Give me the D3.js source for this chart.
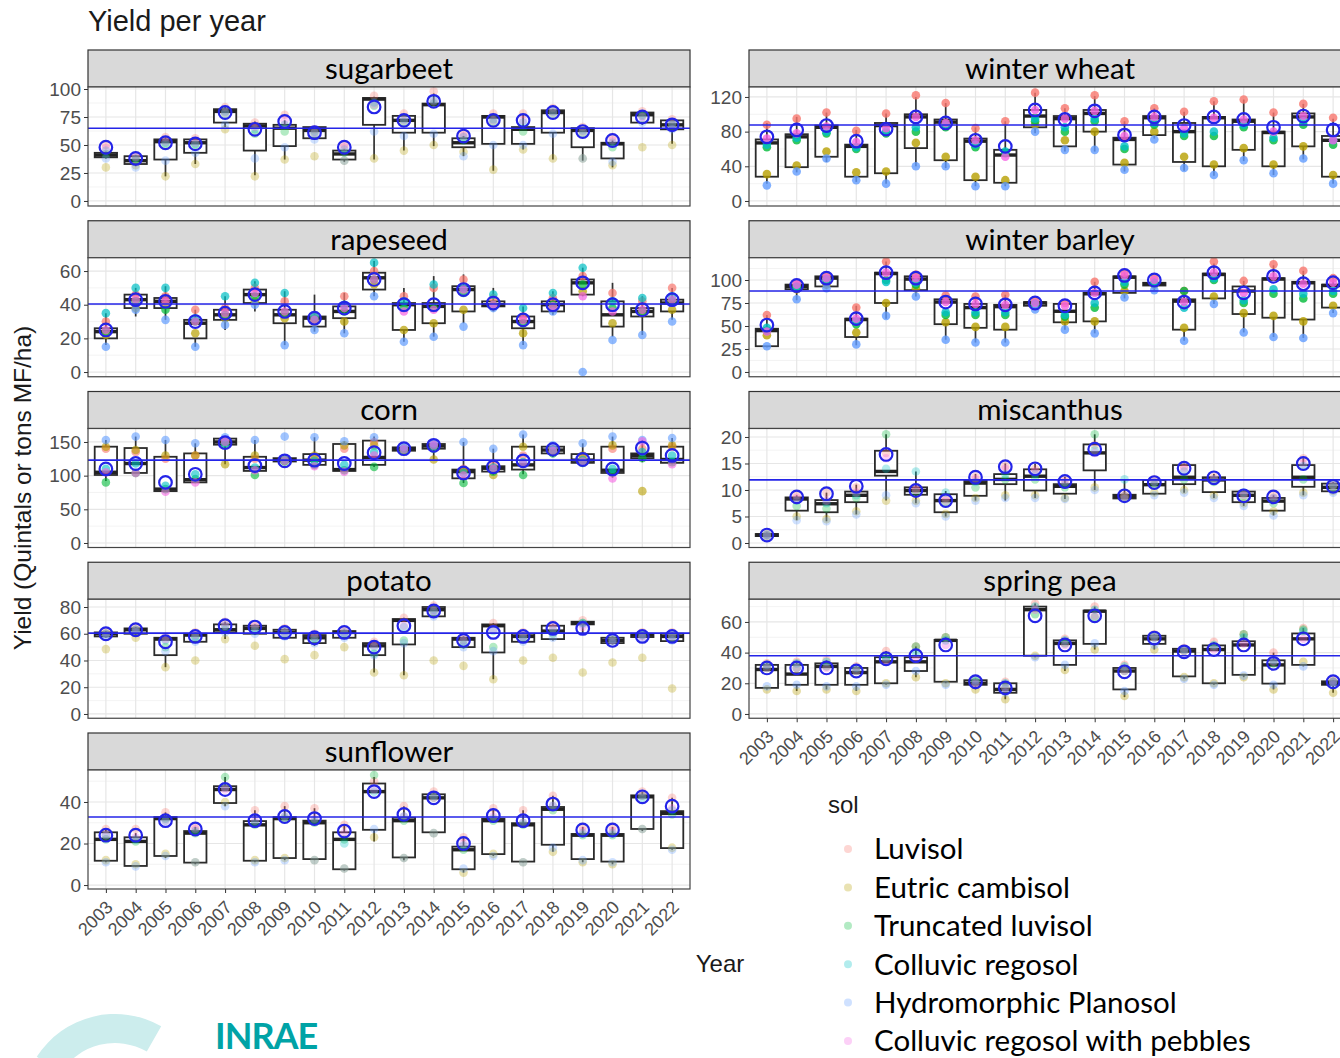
<!DOCTYPE html>
<html>
<head>
<meta charset="utf-8">
<script src="https://cdn.jsdelivr.net/npm/d3@7"></script>
<style>
  body { margin: 0; background: #fff; }
  svg { display: block; }
</style>
</head>
<body>
<div id="chart"></div>
<script>
// ---- data ----
const years = ["2003", "2004", "2005", "2006", "2007", "2008", "2009", "2010", "2011", "2012",
  "2013", "2014", "2015", "2016", "2017", "2018", "2019", "2020", "2021", "2022"];
const soils = ["Luvisol", "Eutric cambisol", "Truncated luvisol", "Colluvic regosol",
  "Hydromorphic Planosol", "Colluvic regosol with pebbles"];
const crops = ["sugarbeet", "rapeseed", "corn", "potato", "sunflower",
  "winter wheat", "winter barley", "miscanthus", "spring pea"];

// overall mean per crop (blue line)
const overallMeans = [65, 40.4, 123, 60.5, 32.8, 87.7, 88, 11.9, 38];
// y range and ticks per crop
const yLimits = [[-4.5, 101.8], [-2.8, 67.9], [-6.7, 170], [-3.2, 85.8], [-1.9, 55.4],
  [-5.8, 131.5], [-5.2, 124.2], [-0.85, 21.6], [-2.8, 74.8]];
const yTicks = [[0, 25, 50, 75, 100], [0, 20, 40, 60], [0, 50, 100, 150], [0, 20, 40, 60, 80], [0, 20, 40],
  [0, 40, 80, 120], [0, 25, 50, 75, 100], [0, 5, 10, 15, 20], [0, 20, 40, 60]];

// box stats per year: [lower whisker, q1, median, q3, upper whisker]
const boxSugarbeet = [[38,39,41,43,44],[31,33,36,40,41],[22,37,53,55,57],[33,43,52,55,56],[66,70,80,82,84],
  [23,45,67,69,71],[37,49,65,68,72],[55,56,63,66,67],[35,37,42,45,46],[37,68,91,92,93],
  [45,61,72,76,77],[49,61,86,87,96],[40,48,52,56,58],[27,51,75,76,78],[46,51,64,66,78],
  [37,61,79,81,82],[36,48,63,65,66],[30,38,51,52,54],[68,70,77,79,80],[51,64,68,72,73]];
const boxRapeseed = [[16,20,24,26,35],[33,38,43,46,50],[31,38,42,44,51],[15,20,29,31,37],[25,31,34,37,45],
  [36,41,46,49,54],[16,29,34,37,48],[24,27,32,33,46],[23,32,36,39,47],[45,49,56,59,66],
  [18,25,40,41,50],[21,29,39,41,57],[29,36,49,51,58],[36,39,40,42,50],[16,26,30,33,39],
  [34,36,40,42,48],[45,46,53,55,62],[21,27,34,42,53],[22,33,36,38,45],[31,36,41,43,50]];
const boxCorn = [[92,101,105,143,153],[104,104,118,141,158],[76,77,80,128,153],[90,90,94,133,148],[117,146,150,155,157],
  [103,107,112,128,153],[120,121,123,126,127],[114,116,123,132,157],[106,107,109,147,151],[113,116,127,152,158],
  [136,137,140,142,143],[124,140,144,147,148],[89,96,106,109,150],[101,106,111,114,140],[102,109,116,143,161],
  [128,133,138,143,145],[118,119,123,132,148],[97,104,108,143,158],[120,126,130,133,153],[117,119,124,143,156]];
const boxPotato = [[57,58,60,61,62],[59,60,63,64,65],[35,44,56,57,58],[53,54,59,60,61],[56,61,63,67,69],
  [59,60,64,66,67],[56,57,61,63,64],[51,53,57,59,60],[56,57,61,62,63],[31,44,51,53,54],
  [29,52,70,71,72],[72,73,78,80,81],[49,50,56,57,58],[26,46,66,67,68],[53,54,58,60,61],
  [55,56,62,66,67],[60,67,68,69,70],[52,53,55,57,58],[57,57.5,59,60,61],[54,54.5,58,60,61]];
const boxSunflower = [[11,11.7,22,25.4,27],[9,9.2,21,23,25],[13,14,32,32.7,35],[10,10.8,25,26,28],[38,39.5,46,47.6,52],
  [11,11.7,29,30.8,36],[12,13,32,32.7,38],[12,12.5,30,31,37],[7,7.6,22,25.4,29],[21,26.6,45,48.9,52],
  [12,13.3,31,32.4,38],[25,25.4,42,43.7,45],[6,7.6,17,18.5,23],[14,14.9,31,31.9,37],[11,11.3,29,29.8,36],
  [16,19.4,36.5,37.6,43],[11,12.5,24,24.6,28],[10,11.3,24,24.6,28],[26,27,42.5,43.2,45],[17,17.8,34.5,35.6,42]];
const boxWinterWheat = [[20,28,67,71,90],[33,39,74,77,97],[45,51,85,87,102],[22,28,63,65,82],[20,32,87,90,101],
  [40,61,97,100,120],[38,47,91,94,113],[17,24,69,72,85],[17,21,53,59,92],[78,85,98,105,125],
  [57,63,95,98,107],[57,80,101,105,121],[34,42,71,73,92],[72,76,96,98,107],[35,45,80,90,103],
  [29,40,96,97,115],[46,59,92,94,117],[30,40,79,80,102],[48,63,97,101,112],[20,28,70,75,95]];
const boxWinterBarley = [[27,28,45,47,62],[78,90,93,95,97],[90,93,102,104,105],[29,38,57,58,72],[58,75,107,108,120],
  [82,89,101,104,106],[35,52,76,79,83],[32,48,70,74,82],[32,46,71,73,84],[68,72,75,76,78],
  [46,54,66,74,75],[42,55,85,86,98],[80,86,103,104,108],[89,94,96,97,102],[34,46,77,79,88],
  [74,80,106,107,118],[43,63,88,93,99],[38,59,101,102,116],[37,57,97,98,110],[64,70,94,95,102]];
const boxMiscanthus = [[1.2,1.3,1.5,1.7,2],[4.3,6.1,8.3,8.6,9],[4.1,5.8,7.4,8.1,9.5],[5.4,7.7,9,9.7,11],[8,12.7,13.5,17.4,20.5],
  [7.5,9.1,9.9,10.5,13.5],[5,5.8,8,9.2,9.8],[8,8.9,11.3,11.7,13],[8,11.1,12,13,15],[8.5,9.9,12.6,13.9,15],
  [8.3,9.3,10.7,11.1,12.5],[10,13.7,17,18.6,20.5],[8.3,8.4,8.8,9.1,12],[9,9.3,11,11.9,12],[9.5,11.1,12.4,14.7,15],
  [8.5,9.6,11.9,12.4,13],[7,7.7,9,9.7,10],[5.2,6.1,7.9,8.5,9],[9,10.6,12.4,14.7,16],[9.5,9.75,10.5,11.2,11.5]];
const boxSpringPea = [[16,17,29,32,33],[15,19,26,32,34],[16,19,31,33,35],[15,19,27,30,31],[19,20,34,37,41],
  [24,28,34,37,44],[20,21,48,48.3,50],[16,19,20,22,23],[9.6,13.8,16,20,21],[37,38,68,70,72],
  [28,32,46,48,49],[42,45.7,67,67.4,70],[11,16,28,30,32],[42,45.7,49,51,52],[23,24.5,41,42.5,43],
  [19,20,42,44.7,47],[24,25.5,45,47.4,52],[16,19.8,32,35,40],[31,32,49,52.5,56],[13.8,19,20,21.3,22]];

// yearly means (open circles)
const meanSugarbeet = [48,38,52,51,79,64,71,61,48,84,72,89,58,72,72,79,62,54,75,68];
const meanRapeseed = [25,43,42,30,35,46,36,32,38,55,40,40,49,41,31,40,53,40,37,43];
const meanCorn = [110,118,90,102,149,115,122,123,118,134,140,145,104,113,122,139,124,110,141,130];
const meanPotato = [60,63,54,58,66,65,61,57,61,50,66,77,55,61,58,64,64,55,58,58];
const meanSunflower = [24,24,31,27,46,31,33,32,26,45,34,42,20,33.5,31,39,26.5,26.5,42.5,38];
const meanWinterWheat = [74,82,87,69,83,97,90,70,63,105,94,104,76,97,87,97,94,85,98,82];
const meanWinterBarley = [51,94,102,58,108,102,76,74,73,75,72,86,105,100,76,108,86,104,96,97];
const meanMiscanthus = [1.5,8.7,9.3,10.7,16.7,9.9,8,12.4,14.4,14,11.6,17.7,8.9,11.4,14.1,12.3,8.9,8.7,15,10.7];
const meanSpringPea = [30,30,30,28,36,38,45,21,17,64,45,64,27.5,49.5,40.5,42,45,33,49,21];

// soil values per year, one row per soil (same order as soils)
const soilSugarbeet = [
  [50,40,57,56,84,70,77,64,50,94,78,98,60,78,78,83,66,57,80,73],
  [30,32,22,33,64,22,37,40,36,38,45,50,44,28,46,38,38,32,48,50],
  [42,37,50,50,78,60,62,60,43,85,70,87,54,70,62,78,60,48,76,68],
  [45,38,52,51,80,64,68,62,46,88,73,90,57,73,70,80,63,52,77,70],
  [38,30,36,43,68,38,48,55,36,62,58,60,40,50,50,60,38,35,70,64],
  [47,39,53,52,79,66,72,61,48,86,72,89,58,72,72,79,62,54,75,69]];
const soilRapeseed = [
  [30,46,45,37,38,50,42,33,45,60,45,50,55,44,33,44,57,47,42,50],
  [22,38,40,23,32,42,32,30,30,52,25,29,37,39,23,38,48,29,35,37],
  [24,42,37,30,34,45,35,31,36,55,38,38,47,40,29,40,52,38,36,42],
  [35,50,50,32,45,53,47,33,40,65,42,52,50,46,38,47,62,42,44,45],
  [15,37,31,15,28,40,16,25,23,45,18,21,27,38,16,36,0,19,22,30],
  [25,43,42,30,35,47,36,31,38,55,36,37,49,40,31,39,45,36,37,43]];
const soilCorn = [
  [140,135,125,130,152,125,124,128,140,150,141,146,110,116,130,140,128,140,140,143],
  [143,138,130,130,117,130,122,130,145,145,138,124,108,101,143,135,130,145,77,145],
  [90,104,80,95,146,101,121,116,108,113,137,140,89,106,101,133,119,104,126,120],
  [110,118,85,102,148,112,123,122,116,135,140,144,104,112,120,138,123,110,135,130],
  [153,158,153,148,157,153,158,157,151,157,143,148,150,140,161,145,148,158,153,156],
  [105,104,76,90,150,108,122,114,106,130,139,145,100,110,118,137,121,96,151,117]];
const soilPotato = [
  [62,65,58,61,69,67,64,60,63,54,72,81,58,68,61,67,70,58,61,61],
  [48.5,57,35,40,56,51,41,44,50,31,29,40,36,26,40,42,31,38.5,42,19],
  [60,63,50,57,63,62,60,55,60,45,55,76,52,50,56,60,68,55,59,57],
  [60,63,55,58,66,64,62,57,61,50,65,78,55,62,58,63,68,56,59,59],
  [58,61,47,54,61,60,58,53,57,44,53,73,50,47,54,57,67,53,57,55],
  [60,63,56,59,66,65,61,58,61,51,66,77,55,63,58,64,65,55,58,58]];
const soilSunflower = [
  [27,27,35,28,47,36,38,37,29,50,38,45,23,37,36,43,28,28,45,42],
  [12,10,15,11,40,12,13,12,8,23,13,25,6,15,11,16,11,10,27,18],
  [22,21,32,25,52,29,32,30,22,53,31,42,17,31,29,36,24,24,43,34],
  [24,22,31,26,47,30,33,31,20,45,33,43,19,32,30,38,25,25,42,36],
  [11,9,14,11,38,11,12,12,8,27,13,25,8,14,11,18,12,11,27,17],
  [24,23,31,27,46,31,33,32,25,46,33,42,20,33,30,38,26,26,43,37]];
const soilWinterWheat = [
  [88,95,102,81,101,122,113,84,92,125,107,122,92,107,103,115,117,102,112,96],
  [31,41,57,33,34,67,51,28,24,88,70,80,44,80,51,42,61,42,63,30],
  [62,70,78,60,78,80,85,62,55,92,80,92,60,88,75,75,85,70,88,65],
  [65,73,80,62,80,85,88,65,57,95,85,95,63,90,78,80,88,73,92,70],
  [18,34,49,24,20,40,40,17,17,80,59,59,36,71,38,30,47,32,49,20],
  [72,78,86,68,84,97,90,70,51,105,95,104,75,97,84,96,94,80,98,70]];
const soilWinterBarley = [
  [62,97,105,70,120,106,83,82,84,78,75,98,108,102,88,120,99,117,110,102],
  [40,90,95,43,75,91,54,49,49,72,55,55,88,95,48,82,64,61,55,72],
  [45,92,100,52,100,95,62,62,62,74,60,70,95,96,88,100,75,85,80,85],
  [48,93,101,55,98,97,65,65,65,74,62,75,98,97,70,102,78,90,85,88],
  [28,79,91,30,61,82,35,32,32,68,46,42,81,89,34,74,43,38,37,64],
  [44,95,102,58,108,102,76,74,73,75,72,86,105,100,76,108,86,104,96,97]];
const soilMiscanthus = [
  [1.8,9,9.5,10.5,17,10.2,8.5,12.5,14.5,14,12,18.5,9,12,14.5,12.5,9.3,9,16,11],
  [1.3,5,4.5,6,8,8,5.5,8.5,9,9,8.5,10.5,8.5,9.5,10,9,7.5,6,9.5,9.8],
  [1.5,7,6.5,8.5,20.5,9.5,7.5,10.5,12,12,10.5,20.5,8.8,11,12,11.5,8.5,7.5,12,10.5],
  [1.6,8,7.5,9,14,13.5,9.5,11.5,13,13,11,17.5,12,11.5,13.5,12,9.5,8.5,14.5,11],
  [1.2,4.3,4.1,5.4,9,7.5,5,8,8.5,8.5,8.3,10,8.3,9,9.5,8.5,7,5.2,9,9.5],
  [1.5,8.5,8,9.5,16,10,8,12,14,13.5,11.5,17,8.8,11.5,14,12,9,8.5,15,10.8]];
const soilSpringPea = [
  [33,34,35,31,41,44,50,23,21,72,49,70,32,52,43,47,52,40,56,22],
  [16,15,16,15,20,24,20,16,9.6,38,28.7,42,11.7,42,24,20,24,16,34,13.8],
  [30,30,31,28,36,44,50,21,17,65,46,63,28,50,41,44,52,33,55,21],
  [32,33,34,30,37,40,48,22,20,70,48,68,31,51,42,45,50,35,54,21],
  [18,19,18,18,19,28,19,19,14,37,32,46,15,45,23,19,25,19,31,19],
  [30,30,30,28,34,36,45,20,17,68,45,64,28,50,41,42,46,34,49,21]];

const boxes = [boxSugarbeet, boxRapeseed, boxCorn, boxPotato, boxSunflower,
  boxWinterWheat, boxWinterBarley, boxMiscanthus, boxSpringPea];
const means = [meanSugarbeet, meanRapeseed, meanCorn, meanPotato, meanSunflower,
  meanWinterWheat, meanWinterBarley, meanMiscanthus, meanSpringPea];
const soilValues = [soilSugarbeet, soilRapeseed, soilCorn, soilPotato, soilSunflower,
  soilWinterWheat, soilWinterBarley, soilMiscanthus, soilSpringPea];

// ---- layout / style ----
const width = 1340, height = 1058;
const colX = [88, 749];
const panelW = 602;
const rowTop = [50, 220.75, 391.5, 562.25, 733];
const stripH = 37, panelH = 119;
const soilColors = ["#F8766D", "#B79F00", "#00BA38", "#00BFC4", "#619CFF", "#F564E3"];
// denser panels look more saturated in the picture
const pointOpacity = [0.3, 0.7, 0.6, 0.3, 0.3, 0.8, 0.8, 0.3, 0.35];
const meanBlue = "#2424E8";
const axisFont = "'Liberation Sans', Arial, sans-serif";
const stripFont = "Lato, 'Open Sans', sans-serif";

const svg = d3.select("#chart").append("svg")
  .attr("width", width)
  .attr("height", height)
  .style("font-family", axisFont);

// title
svg.append("text")
  .attr("x", 88).attr("y", 31)
  .attr("font-size", 29).attr("fill", "#1a1a1a")
  .text("Yield per year");

crops.forEach((crop, c) => {
  const col = c < 5 ? 0 : 1;
  const row = c < 5 ? c : c - 5;
  const x0 = colX[col];
  const top = rowTop[row];
  const pTop = top + stripH;
  const pBot = pTop + panelH;

  const x = d3.scalePoint().domain(years).range([x0, x0 + panelW]).padding(0.6);
  const y = d3.scaleLinear().domain(yLimits[c]).range([pBot, pTop]);
  const step = x.step();
  const boxW = step * 0.75;

  const g = svg.append("g");

  // strip
  g.append("rect")
    .attr("x", x0).attr("y", top).attr("width", panelW).attr("height", stripH)
    .attr("fill", "#D9D9D9").attr("stroke", "#333").attr("stroke-width", 1.2);
  g.append("text")
    .attr("x", x0 + panelW / 2).attr("y", top + stripH / 2)
    .attr("dy", "0.35em").attr("text-anchor", "middle")
    .attr("font-family", stripFont).attr("font-size", 29.5).attr("fill", "#000")
    .text(crop);

  // panel background + grid
  g.append("rect")
    .attr("x", x0).attr("y", pTop).attr("width", panelW).attr("height", panelH)
    .attr("fill", "#fff");

  const ticks = yTicks[c];
  const tStep = ticks[1] - ticks[0];
  const minor = [ticks[0] - tStep / 2].concat(ticks.map(t => t + tStep / 2))
    .filter(v => v > yLimits[c][0] && v < yLimits[c][1]);

  g.append("g").selectAll("line").data(minor).join("line")
    .attr("x1", x0).attr("x2", x0 + panelW)
    .attr("y1", d => y(d)).attr("y2", d => y(d))
    .attr("stroke", "#F0F0F0").attr("stroke-width", 0.8);
  g.append("g").selectAll("line").data(ticks).join("line")
    .attr("x1", x0).attr("x2", x0 + panelW)
    .attr("y1", d => y(d)).attr("y2", d => y(d))
    .attr("stroke", "#E6E6E6").attr("stroke-width", 1.2);
  g.append("g").selectAll("line").data(years).join("line")
    .attr("x1", d => x(d)).attr("x2", d => x(d))
    .attr("y1", pTop).attr("y2", pBot)
    .attr("stroke", "#E6E6E6").attr("stroke-width", 1.2);

  // boxplots
  const bdata = boxes[c].map((b, i) => ({ year: years[i], lo: b[0], q1: b[1], med: b[2], q3: b[3], hi: b[4] }));
  const bx = g.append("g").selectAll("g").data(bdata).join("g");
  bx.append("line")
    .attr("x1", d => x(d.year)).attr("x2", d => x(d.year))
    .attr("y1", d => y(d.hi)).attr("y2", d => y(d.lo))
    .attr("stroke", "#333").attr("stroke-width", 1.7);
  bx.append("rect")
    .attr("x", d => x(d.year) - boxW / 2).attr("width", boxW)
    .attr("y", d => y(d.q3)).attr("height", d => Math.max(1, y(d.q1) - y(d.q3)))
    .attr("fill", "#fff").attr("stroke", "#2b2b2b").attr("stroke-width", 1.8);
  bx.append("line")
    .attr("x1", d => x(d.year) - boxW / 2).attr("x2", d => x(d.year) + boxW / 2)
    .attr("y1", d => y(d.med)).attr("y2", d => y(d.med))
    .attr("stroke", "#222").attr("stroke-width", 3.4);

  // soil points
  const pts = [];
  soilValues[c].forEach((vals, s) => vals.forEach((v, i) => {
    if (v != null) pts.push({ soil: s, year: years[i], v });
  }));
  g.append("g").selectAll("circle").data(pts).join("circle")
    .attr("cx", d => x(d.year)).attr("cy", d => y(d.v))
    .attr("r", 4.3)
    .attr("fill", d => soilColors[d.soil])
    .attr("fill-opacity", pointOpacity[c]);

  // overall mean line
  g.append("line")
    .attr("x1", x0).attr("x2", x0 + panelW)
    .attr("y1", y(overallMeans[c])).attr("y2", y(overallMeans[c]))
    .attr("stroke", meanBlue).attr("stroke-width", 1.6);

  // yearly means
  g.append("g").selectAll("circle").data(means[c]).join("circle")
    .attr("cx", (d, i) => x(years[i])).attr("cy", d => y(d))
    .attr("r", 6.3)
    .attr("fill", "none").attr("stroke", meanBlue).attr("stroke-width", 2.2);

  // panel border
  g.append("rect")
    .attr("x", x0).attr("y", pTop).attr("width", panelW).attr("height", panelH)
    .attr("fill", "none").attr("stroke", "#444").attr("stroke-width", 1.2);

  // y axis
  const ya = g.append("g")
    .attr("transform", `translate(${x0},0)`)
    .call(d3.axisLeft(y).tickValues(ticks).tickSize(4).tickPadding(3));
  ya.select(".domain").remove();
  ya.selectAll(".tick line").attr("stroke", "#333");
  ya.selectAll(".tick text")
    .attr("fill", "#4D4D4D").attr("font-size", 19).attr("font-family", axisFont);

  // x axis only on the bottom panel of each column
  if (c === 4 || c === 8) {
    const xa = g.append("g")
      .attr("transform", `translate(0,${pBot})`)
      .call(d3.axisBottom(x).tickSize(4).tickPadding(2));
    xa.select(".domain").remove();
    xa.selectAll(".tick line").attr("stroke", "#333");
    xa.selectAll(".tick text")
      .attr("fill", "#4D4D4D").attr("font-size", 18).attr("font-family", axisFont)
      .attr("text-anchor", "end")
      .attr("x", 0).attr("y", 0).attr("dy", "0.35em")
      .attr("transform", "translate(3,15) rotate(-45)");
  }
});

// axis titles
svg.append("text")
  .attr("transform", "translate(31,488) rotate(-90)")
  .attr("text-anchor", "middle")
  .attr("font-size", 24.5).attr("fill", "#1a1a1a")
  .text("Yield (Quintals or tons MF/ha)");
svg.append("text")
  .attr("x", 720).attr("y", 972)
  .attr("text-anchor", "middle")
  .attr("font-size", 24).attr("fill", "#1a1a1a")
  .text("Year");

// legend
const legend = svg.append("g");
legend.append("text")
  .attr("x", 828).attr("y", 813)
  .attr("font-size", 24).attr("fill", "#1a1a1a")
  .text("sol");
const items = legend.selectAll("g.item").data(soils).join("g")
  .attr("class", "item")
  .attr("transform", (d, i) => `translate(848,${849 + i * 38.4})`);
items.append("circle")
  .attr("r", 4)
  .attr("fill", (d, i) => soilColors[i])
  .attr("fill-opacity", 0.3);
items.append("text")
  .attr("x", 26).attr("dy", "0.35em")
  .attr("font-family", stripFont).attr("font-size", 29.5).attr("fill", "#000")
  .text(d => d);

// INRAE logo
const logo = svg.append("g");
logo.append("path")
  .attr("transform", "translate(115,1107)")
  .attr("d", d3.arc()({ innerRadius: 64, outerRadius: 93, startAngle: -1.0, endAngle: 0.52 }))
  .attr("fill", "#CCEDED");
logo.append("text")
  .attr("x", 215).attr("y", 1049)
  .attr("font-family", stripFont).attr("font-weight", 700)
  .attr("font-size", 36).attr("letter-spacing", -1)
  .attr("fill", "#00A3A6")
  .text("INRAE");
</script>
</body>
</html>
